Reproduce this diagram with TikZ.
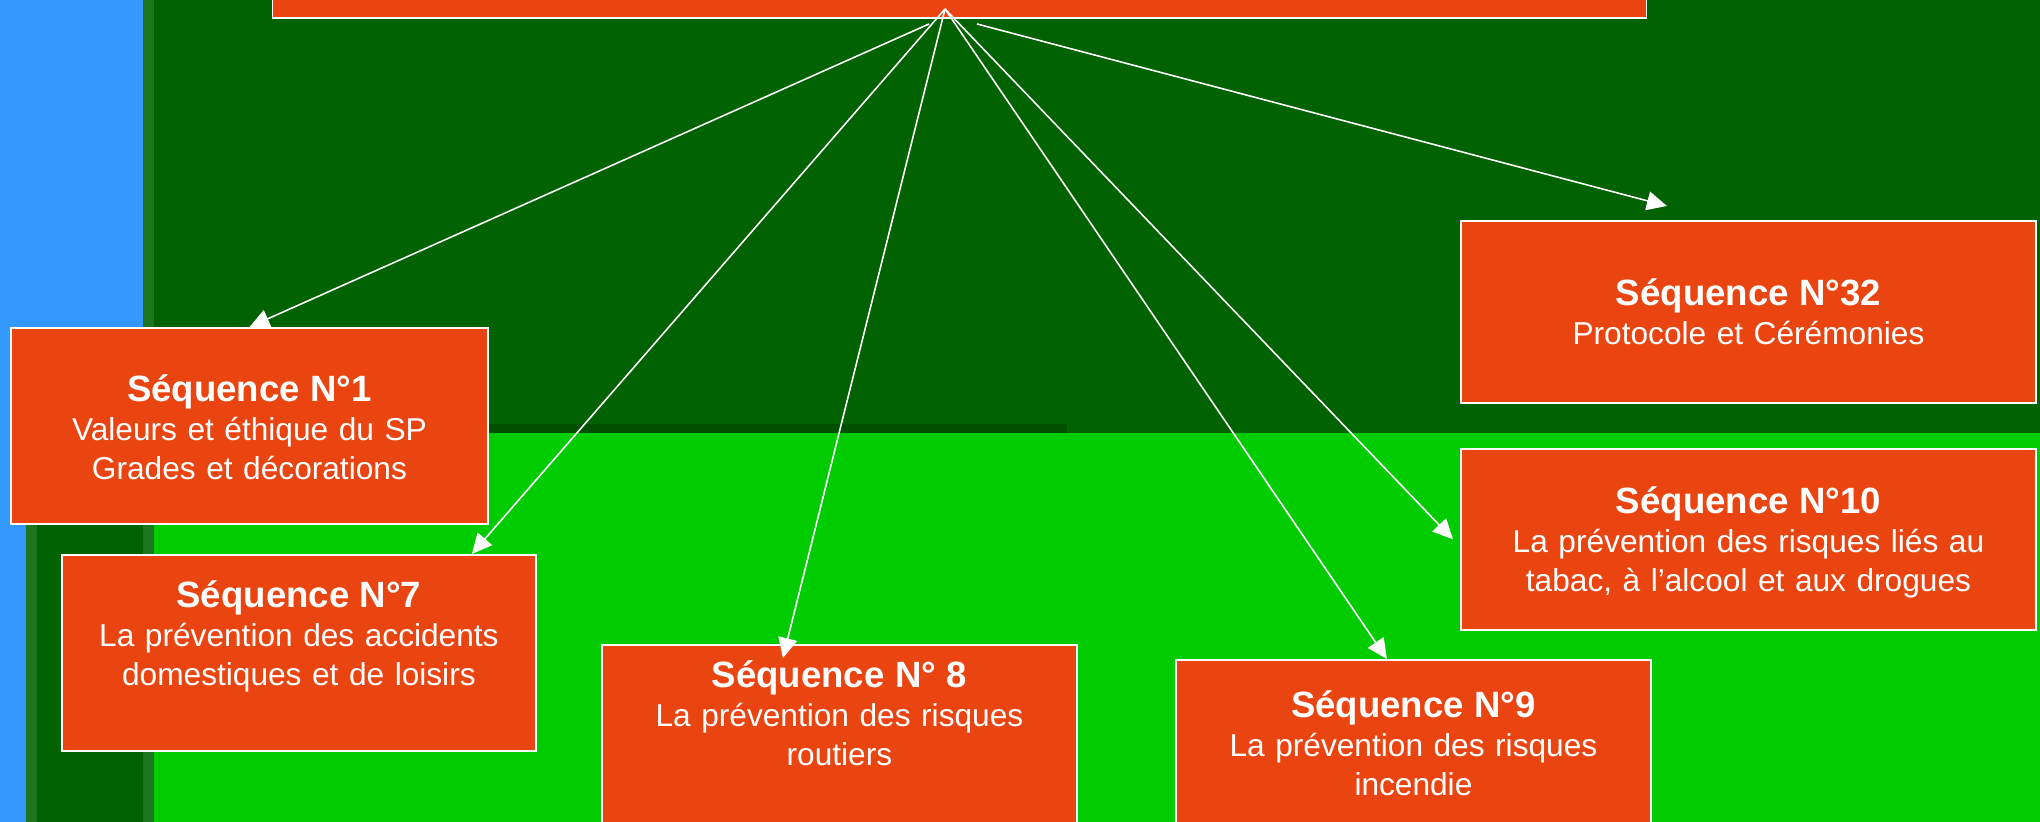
\documentclass[tikz,border=0pt]{standalone}
\usepackage{fontspec}
\setmainfont{Liberation Sans}
\usetikzlibrary{arrows.meta}
\definecolor{slideblue}{RGB}{51,153,255}
\definecolor{darkgreen}{RGB}{0,98,0}
\definecolor{edgegreen}{RGB}{30,117,32}
\definecolor{bandgreen}{RGB}{0,80,0}
\definecolor{lightgreen}{RGB}{0,204,0}
\definecolor{seqorange}{RGB}{234,69,17}
\tikzset{
  seqbox/.style={draw=white,fill=seqorange,line width=0.45pt,text=white,inner sep=0pt,
    align=center,anchor=north west,font=\fontsize{9}{11}\selectfont},
  arr/.style={white,line width=0.45pt,-{Triangle[length=0.2cm,width=0.19cm]}}
}
\newcommand{\seqtitle}[1]{{\bfseries\fontsize{10.4}{11}\selectfont #1}}

\begin{document}
\begin{tikzpicture}[x=0.01cm,y=-0.01cm]
        \useasboundingbox (0,0) rectangle (2040,822);
        \fill[slideblue](0,0)rectangle(2040,822);
        \fill[darkgreen](154,0)rectangle(2040,433);
        \fill[edgegreen](26,400)rectangle(143,822);
        \fill[darkgreen](37,400)rectangle(143,822);
        \fill[edgegreen](143,0)rectangle(154,822);
        \fill[lightgreen](154,433)rectangle(2040,822);
        \fill[bandgreen](154,424)rectangle(1067,433);
        \node[draw=white,fill=seqorange,line width=0.45pt,minimum width=13.73cm,minimum height=1cm,anchor=south](mod)at(959.5,19){};
        \node[seqbox,text width=4.77cm,text height=0.74cm,text depth=1.22cm](s1)at(10,327){\seqtitle{Séquence N°1}\\Valeurs et éthique du SP\\Grades et décorations};
        \node[seqbox,text width=4.74cm,text height=0.53cm,text depth=1.43cm](s7)at(61,554){\seqtitle{Séquence N°7}\\La prévention des accidents\\domestiques et de loisirs};
        \node[seqbox,text width=4.75cm,text height=0.43cm,text depth=2cm](s8)at(601,644){\seqtitle{Séquence N° 8}\\La prévention des risques\\routiers};
        \node[seqbox,text width=4.75cm,text height=0.58cm,text depth=2cm](s9)at(1175,659){\seqtitle{Séquence N°9}\\La prévention des risques\\incendie};
        \node[seqbox,text width=5.75cm,text height=0.65cm,text depth=1.16cm](s10)at(1460,448){\seqtitle{Séquence N°10}\\La prévention des risques liés au\\tabac, à l’alcool et aux drogues};
        \node[seqbox,text width=5.75cm,text height=0.85cm,text depth=0.97cm](s32)at(1460,220){\seqtitle{Séquence N°32}\\Protocole et Cérémonies};
        \coordinate(hub)at(945,9);
        \coordinate(hubl)at(929,24);
        \coordinate(hubr)at(977,24);
        \draw[arr](hubl)--(s1.north);
        \draw[arr](hub)--([xshift=-0.65cm]s7.north east);
        \draw[arr](hub)--([xshift=-0.565cm,yshift=-0.14cm]s8.north);
        \draw[arr](hub)--([xshift=-0.265cm]s9.north);
        \draw[arr](hub)--([xshift=-0.07cm]s10.west);
        \draw[arr](hubr)--([xshift=-0.815cm,yshift=0.14cm]s32.north);
    \end{tikzpicture}
\end{document}
